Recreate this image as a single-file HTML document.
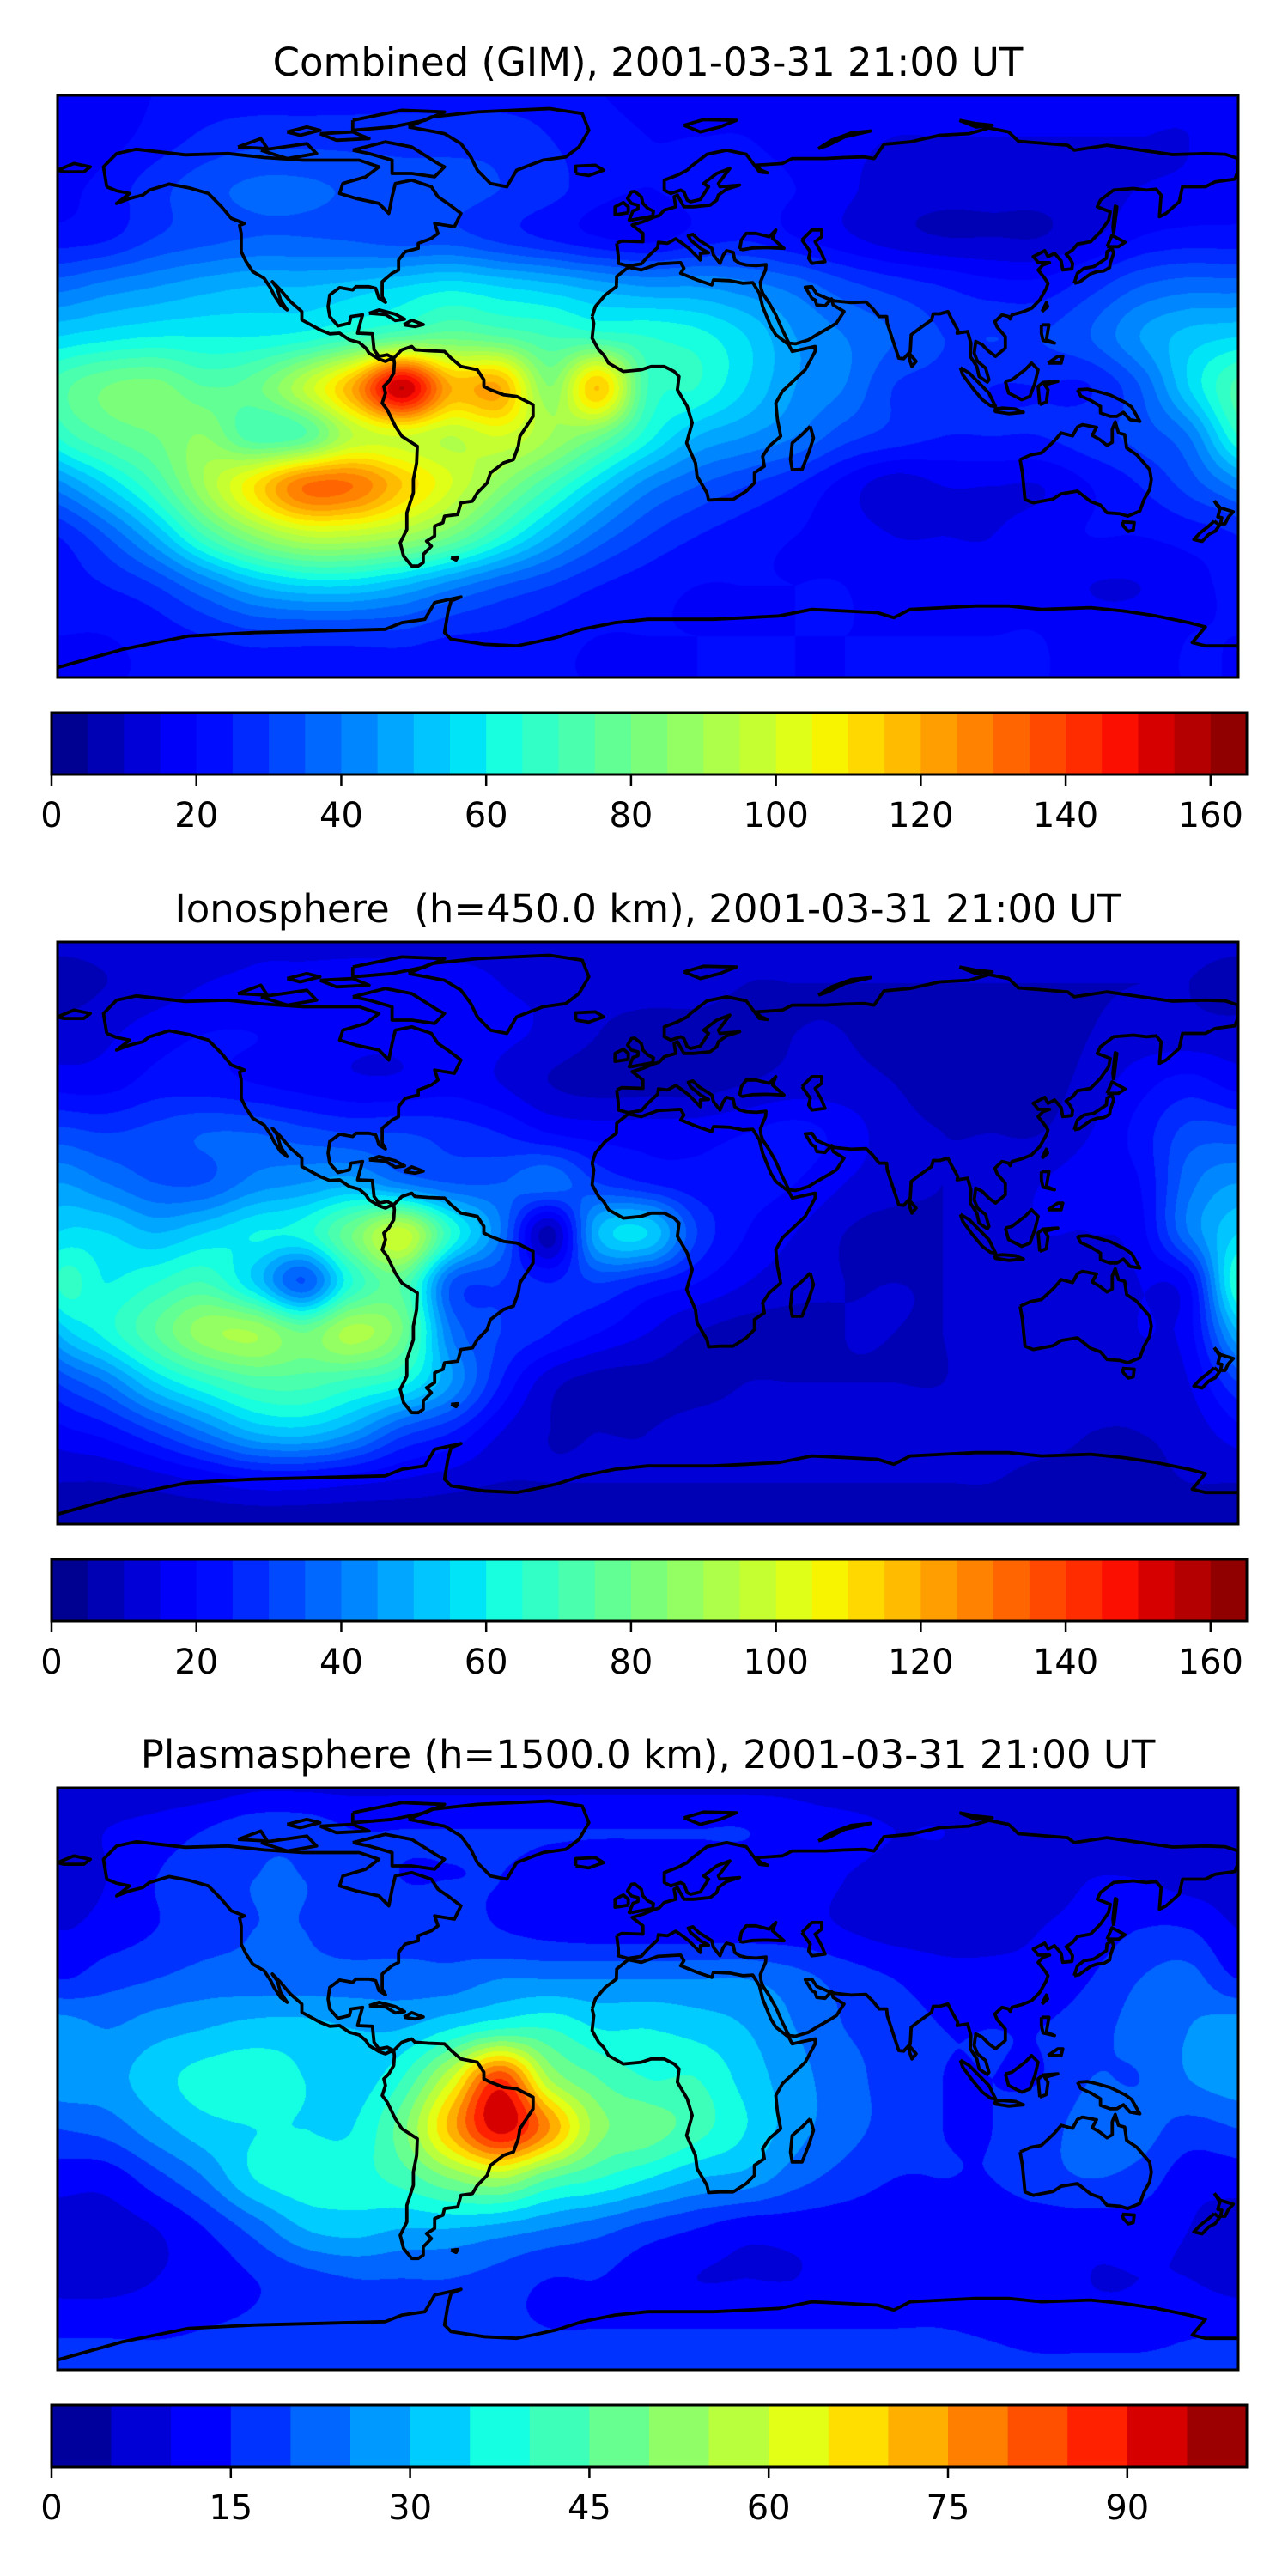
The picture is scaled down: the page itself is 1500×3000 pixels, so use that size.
<!DOCTYPE html>
<html><head><meta charset="utf-8">
<style>
html,body{margin:0;padding:0;background:#fff;}
#wrap{position:relative;width:1500px;height:3000px;overflow:hidden;font-family:"DejaVu Sans","Liberation Sans",sans-serif;}
canvas{position:absolute;}
svg{position:absolute;left:0;top:0;}
</style></head>
<body>
<div id="wrap">
<canvas id="c0" width="1375" height="678" style="left:67px;top:111px"></canvas>
<canvas id="c1" width="1375" height="678" style="left:67px;top:1097px"></canvas>
<canvas id="c2" width="1375" height="678" style="left:67px;top:2082px"></canvas>
<svg id="ov" width="1500" height="3000"></svg>
</div>
<script>
// ---- data ----
const gridLons=[-180,-165,-150,-135,-120,-105,-90,-75,-60,-45,-30,-15,0,15,30,45,60,75,90,105,120,135,150,165,180];
const gridLats=[90,75,60,45,30,15,0,-15,-30,-45,-60,-75,-90];
const gimValues=[
[18,18,20,22,22,22,22,22,22,22,22,20,18,18,18,16,16,16,16,16,16,16,16,16,18],
[16,18,22,26,28,28,28,28,28,28,25,22,20,20,20,18,16,15,15,15,15,15,15,15,16],
[18,22,28,33,36,36,34,32,32,30,27,22,20,22,22,20,16,13,12,12,12,13,15,16,18],
[22,24,30,33,35,35,34,32,32,28,24,20,18,22,24,20,16,12,10,10,10,14,20,22,22],
[38,42,45,48,50,50,52,55,58,55,52,48,45,45,42,38,32,28,25,22,22,28,35,38,38],
[55,58,60,60,60,62,68,75,78,75,70,68,65,62,55,45,40,35,30,30,30,35,45,52,55],
[72,80,82,75,78,95,120,155,120,120,85,115,70,65,55,45,40,30,28,25,25,25,35,55,72],
[65,75,80,85,72,75,95,100,95,100,90,80,62,50,45,40,32,28,25,25,25,28,32,40,65],
[42,55,70,90,110,130,130,115,100,85,70,55,42,35,30,25,18,12,15,15,15,20,25,32,42],
[25,35,50,70,85,95,95,90,80,65,50,38,30,25,22,20,18,15,15,15,18,20,20,22,25],
[22,25,30,40,50,55,55,50,42,35,30,25,22,20,20,20,20,18,18,18,18,15,15,18,22],
[20,20,22,25,28,28,28,28,25,24,22,20,20,20,20,20,20,20,20,20,20,18,18,20,20],
[20,20,20,20,20,20,20,20,20,20,20,20,20,20,20,20,20,20,20,20,20,20,20,20,20]];
const ionoValues=[
[12,12,12,12,14,14,14,14,14,14,12,12,12,12,12,12,12,12,12,12,12,12,12,12,12],
[8,10,12,15,16,16,16,16,16,15,14,12,12,12,10,10,10,10,10,10,10,10,10,10,8],
[12,14,18,20,20,18,16,16,18,16,14,10,8,8,8,10,10,8,8,8,8,10,12,12,12],
[18,18,22,22,20,18,16,16,18,15,10,8,8,8,10,12,12,10,8,8,8,12,18,22,18],
[32,30,32,35,35,32,30,30,28,25,20,18,18,18,20,22,18,12,10,10,10,15,22,32,32],
[45,40,35,35,42,45,48,40,35,35,38,30,25,22,22,20,15,12,10,12,15,18,20,38,45],
[55,55,50,55,60,62,80,98,65,40,8,50,55,30,20,15,10,8,10,12,15,15,18,40,55],
[65,60,65,70,55,35,65,75,35,30,25,30,25,20,15,12,10,10,10,12,12,12,15,20,65],
[50,62,75,88,90,80,92,80,40,30,25,20,15,10,8,8,10,10,10,12,12,12,15,18,50],
[30,40,55,65,72,72,68,62,45,25,12,8,8,8,10,10,10,10,10,12,12,12,12,15,30],
[18,22,30,40,50,52,45,32,25,15,10,10,10,12,12,12,12,12,12,12,12,10,10,12,18],
[10,10,12,15,18,18,16,14,12,10,10,10,10,10,10,10,10,10,10,10,8,8,8,10,10],
[5,5,5,5,5,5,5,5,5,5,5,5,5,5,5,5,5,5,5,5,5,5,5,5,5]];
const plasmaValues=[
[6,6,6,6,8,8,8,8,8,8,8,8,8,8,8,8,6,6,6,6,6,5,5,5,6],
[8,10,12,15,18,18,15,15,15,15,15,15,15,15,15,13,12,10,10,8,8,8,6,6,8],
[8,10,15,18,20,20,18,15,15,15,13,12,12,12,12,12,10,8,8,8,8,10,10,8,8],
[10,12,15,18,20,20,18,18,18,15,13,12,12,12,12,12,10,8,8,8,10,12,15,15,10],
[15,18,20,22,22,22,22,22,22,25,25,25,25,25,25,22,18,15,12,12,12,15,20,22,15],
[28,25,28,30,32,32,30,30,35,40,40,35,35,33,30,25,20,18,15,15,15,18,22,25,28],
[28,28,33,37,38,35,32,40,60,85,55,45,40,40,33,27,22,18,15,15,15,20,20,25,28],
[20,22,28,33,35,35,35,48,72,92,75,52,48,42,35,27,22,18,15,15,18,22,22,18,20],
[12,12,18,25,35,38,38,42,50,55,45,40,35,30,28,22,18,15,15,15,18,20,18,12,12],
[8,8,10,15,22,30,32,30,30,28,25,22,18,15,12,12,12,12,12,12,12,12,12,10,8],
[8,8,10,12,15,18,20,20,20,18,15,15,12,10,10,10,12,12,12,12,12,10,10,10,8],
[14,14,14,15,16,18,18,18,18,16,15,15,15,15,15,15,15,15,15,14,12,12,12,14,14],
[18,18,18,18,18,18,18,18,18,18,18,18,18,18,18,18,18,18,18,18,18,18,18,18,18]];
const levelsMax=[165,165,100];
const levelStep=5;
const tickLabels0=[0,20,40,60,80,100,120,140,160];
const tickLabels2=[0,15,30,45,60,75,90];
const titles=["Combined (GIM), 2001-03-31 21:00 UT","Ionosphere\u00a0 (h=450.0 km), 2001-03-31 21:00 UT","Plasmasphere (h=1500.0 km), 2001-03-31 21:00 UT"];

// ---- layout ----
const MX=67,MW=1375,MH=678,MY=[111,1097,2082];
const LATTOP=87.5,LATSPAN=175;
const CBX=60,CBW=1392,CBH=72,CBGAP=41;
function xOf(lon){return MX+(lon+180)/360*MW;}
function yOf(lat,p){return MY[p]+(LATTOP-lat)/LATSPAN*MH;}
function seg(pts,x){for(let i=1;i<pts.length;i++){if(x<=pts[i][0]){const a=pts[i-1],b=pts[i];return a[1]+(b[1]-a[1])*(x-a[0])/(b[0]-a[0]);}}return pts[pts.length-1][1];}
const JR=[[0,0],[0.35,0],[0.66,1],[0.89,1],[1,0.5]];
const JG=[[0,0],[0.125,0],[0.375,1],[0.64,1],[0.91,0],[1,0]];
const JB=[[0,0.5],[0.11,1],[0.34,1],[0.65,0],[1,0]];
function jet(x){return [seg(JR,x),seg(JG,x),seg(JB,x)].map(v=>Math.round(v*255));}
function cr(p0,p1,p2,p3,t){return p1+0.5*t*(p2-p0+t*(2*p0-5*p1+4*p2-p3+t*(3*(p1-p2)+p3-p0)));}
function sample(g,lon,lat){
  const fx=(lon+180)/15,fy=(90-lat)/15;
  const i=Math.floor(fx),j=Math.floor(fy),tx=fx-i,ty=fy-j;
  const col=k=>((k%24)+24)%24, row=k=>Math.max(0,Math.min(12,k));
  const r=[];
  for(let dj=-1;dj<=2;dj++){const R=g[row(j+dj)];r.push(cr(R[col(i-1)],R[col(i)],R[col(i+1)],R[col(i+2)],tx));}
  return cr(r[0],r[1],r[2],r[3],ty);
}
const grids=[gimValues,ionoValues,plasmaValues];
for(let p=0;p<3;p++){
  const cv=document.getElementById('c'+p),ctx=cv.getContext('2d');
  const img=ctx.createImageData(MW,MH),d=img.data;
  const N=levelsMax[p]/levelStep;
  const pal=[];for(let k=0;k<N;k++)pal.push(jet((k+0.5)/N));
  for(let y=0;y<MH;y++){
    const lat=LATTOP-(y+0.5)/MH*LATSPAN;
    for(let x=0;x<MW;x++){
      const lon=-180+(x+0.5)/MW*360;
      let v=sample(grids[p],lon,lat);
      let k=Math.floor(v/levelStep);k=Math.max(0,Math.min(N-1,k));
      const c=pal[k],o=(y*MW+x)*4;
      d[o]=c[0];d[o+1]=c[1];d[o+2]=c[2];d[o+3]=255;
    }
  }
  ctx.putImageData(img,0,0);
}

// ---- coastlines (lon,lat) ----
const coasts=[
[[-165,60],[-166,66],[-162,70],[-156,71.3],[-141,69.6],[-128,70],[-117,68.8],[-105,68],[-95,68],[-88,68],[-82,66],[-86,63],[-93,61],[-94,58],[-89,56.5],[-82,55],[-79,52],[-78,57],[-77,61],[-72,62],[-66,60],[-64,57],[-61,55],[-57,52],[-59,48],[-65,49],[-64,46],[-66,44.5],[-70,43],[-70,41.5],[-74,40.5],[-76,38],[-76,35],[-78,34],[-81,31.5],[-81,27],[-80,25.3],[-82,26.5],[-83,29.5],[-85,30],[-89,30],[-90,29],[-94,29.7],[-97,27.5],[-97.5,24],[-97,21],[-94.5,18.2],[-91,19],[-90.5,21],[-87,21.5],[-88,18],[-88.5,16],[-84,15.8],[-83.5,11],[-82,9],[-79.5,9.5],[-77.5,8.5],[-79,8],[-80,7.5],[-82,8.2],[-85,10],[-86,11.5],[-88,13.2],[-91,14],[-94,16],[-97,15.8],[-100,17],[-105.5,20],[-105.5,22.5],[-109,25.5],[-112,29],[-114.5,31.5],[-113,29.5],[-112,26],[-110,23],[-112,24.5],[-114,27.5],[-115,29.5],[-117,32.5],[-120.5,34.5],[-122.5,37.5],[-124,40.5],[-124,46],[-124.5,48.4],[-123,49],[-127,50.5],[-130,54],[-134,58],[-140,59.7],[-146,60.8],[-152,59],[-154,57.5],[-158,56.5],[-162,55],[-158,58],[-162,58.8],[-165,60]],
[[-73,78],[-66,81],[-52,82.5],[-30,83.5],[-20,82],[-18,77],[-21,72],[-25,69],[-32,68],[-40,65],[-43,60],[-48,61],[-52,65],[-54,69],[-57,73],[-62,76],[-73,78]],
[[-90,71],[-80,73.5],[-72,72],[-64,67],[-62,66],[-65,63],[-72,64],[-78,64],[-78,68],[-85,70],[-90,71]],
[[-90,80],[-75,83],[-62,82.5],[-68,80],[-78,78],[-90,77],[-90,80]],
[[-118,71],[-104,73],[-101,70],[-110,68.5],[-118,71]],
[[-125,72],[-118,74.5],[-116,71.5],[-125,72]],
[[-100,76],[-90,76.5],[-85,74.5],[-95,74],[-100,76]],
[[-110,76.5],[-104,78],[-100,77],[-106,75.5],[-110,76.5]],
[[-77.5,8.5],[-75,11],[-72,12],[-71,11],[-67,10.7],[-62,10.5],[-60,8.5],[-57,6],[-52,5],[-50,2],[-50,0],[-48,-1],[-44,-2.5],[-40,-3],[-35,-5.5],[-35,-9],[-37,-12],[-39,-15],[-39.5,-18],[-41,-22],[-44,-23],[-48,-26],[-49,-29],[-52,-32],[-53.5,-34.5],[-57,-35],[-58,-38.5],[-62,-39],[-62.5,-41],[-65,-42],[-65,-45],[-67.5,-46.5],[-66,-48],[-68.5,-50.5],[-68.5,-53],[-70,-54],[-72,-54],[-74.5,-51],[-75.5,-47],[-73.5,-43],[-73.5,-38],[-71.5,-32],[-71.5,-28],[-70.5,-23],[-70.3,-18],[-75,-15],[-77,-12],[-79.5,-7],[-81,-5],[-80,-2],[-80.5,0],[-79,1.5],[-77.5,4],[-77.3,7],[-77.5,8.5]],
[[-85,22],[-82,23],[-77,21.7],[-74.2,20.2],[-77,19.8],[-80,21.6],[-85,22]],
[[-74.4,18.5],[-72,19.9],[-68.5,18.6],[-71,18],[-74.4,18.5]],
[[-17,21],[-16,24],[-13,27.5],[-9.6,30],[-9.5,33],[-6,35.8],[-2,35],[3,36.8],[10,37.2],[11,35.5],[10,34],[15,32],[19.5,30.5],[20,32],[25,31.8],[29,31],[32,31.2],[34,28],[35,24],[37.5,18],[39,15.5],[43,12.5],[44,10.5],[51,12],[51,10.5],[48,5],[41,-1.5],[39,-5],[39.5,-10],[40.5,-15],[37,-18],[35,-21],[35.5,-24],[32.5,-26],[32.5,-29],[30,-31.5],[26,-34],[22,-34],[18.5,-34.2],[18,-32],[15,-27],[14.5,-23],[11.8,-17],[13.5,-11],[12,-6],[9,-1],[9.5,3],[8,4.5],[5,6],[1,6],[-2,5],[-7.5,4.5],[-12,7],[-13.5,9.5],[-15,11],[-17,14.5],[-16.5,19],[-17,21]],
[[49.5,-12],[50.5,-15.5],[49,-20],[47,-25],[44,-25],[43.5,-22],[44,-17],[47,-14.5],[49.5,-12]],
[[-9.5,43],[-9,39],[-9,37],[-6,36.2],[-2,36.8],[0,39],[3,41.8],[3.2,43.3],[6,43],[8.5,44.4],[10.5,43],[12.5,41.5],[16,38],[16,40],[18.5,40.2],[16,41.5],[13,44],[12.3,45.3],[13.7,45.7],[15.5,44],[19.5,41.5],[20,39.5],[22,37],[23,39.5],[24,40.8],[26,40.3],[26.5,38],[28,37],[30,36.5],[33,36.3],[36,36.6],[35.9,35],[35,33],[34.3,31.3],[34.5,29.5],[35,28],[37,25],[39,21.5],[41,17],[43,13],[45,12.8],[49,14],[52,15.8],[55,17.5],[57.5,19],[59.8,22.5],[56.5,24.5],[56,26.3],[54,24.2],[51.5,24.5],[51,26],[50,26.5],[48,29.8],[50,30],[51.5,27.8],[54.5,26.5],[57,25.7],[62,25.2],[66.5,25.4],[68.5,23.5],[70.5,21],[72.8,21],[73,19],[74.5,14.5],[76.5,8.5],[78,8.3],[80,10.5],[80.3,15.5],[82.3,17],[86.5,20],[87,21.8],[89,21.8],[91.5,22.5],[92.5,20.5],[94.5,17],[94.3,16],[97.5,16.5],[98.5,13],[98.3,9],[100.3,6],[101,3],[103.5,1.3],[104,2],[103,5.5],[100.5,7.5],[99.5,10],[100,13.5],[102,12.5],[104,10.5],[106,9],[109,11.5],[109,15],[106.5,17.8],[105.8,19.5],[108,21.5],[110,21],[110.5,20.3],[111,21.5],[114,22.3],[117,23.5],[119.5,26],[121.5,29.5],[122,31],[121,32.5],[119,35],[120.5,36.5],[122.5,37.2],[119,37.2],[118,38.5],[117.5,39],[121,40.8],[122,39],[124,40],[126,37.7],[126.5,35],[129.3,35.3],[129.5,37],[128.5,38.7],[127.5,39.7],[129.5,41],[131,42.8],[135,43.5],[138,46.5],[140.5,50],[141,52.5],[137,54],[138,56],[142,59],[148,59.5],[152,59],[155,59.3],[156.5,57.5],[156,51],[158,52],[162,55.5],[163,60],[170,60],[173,61.5],[179,62.3],[180,65],[180,68.5],[176,69.8],[170,70],[160,69.7],[152,70.8],[140,72.5],[130,71],[128,72.5],[113,73.7],[110,76.5],[104,77.7],[98,76],[89,75.5],[80,73.5],[72,72.8],[69,68.5],[66,69],[60,68.8],[54,68.5],[44,68.5],[41,67],[33,66.5],[34.5,65],[36.5,64.2],[34,64.5],[30,69.8],[24,71],[18,69.8],[13,66],[12,65],[9,63.5],[5,62],[5,59],[7,58],[10,59],[11,58.5],[12,56],[13,55.5],[16,56.2],[18.5,60],[17,61],[21,64],[25,65.5],[21.5,61],[22,60],[28,60.5],[24,59.3],[21.5,57.5],[21,56],[19,54.5],[14,54],[11,54],[9,57.5],[8,57],[8.5,54],[5,53],[3.5,51.4],[1.6,50.8],[-1.5,49.5],[-4.8,48.5],[-1.5,46],[-1.5,43.5],[-8,43.7],[-9.5,43]],
[[-180,65],[-175,67],[-170,66],[-172,64.5],[-178,64.5],[-180,65]],
[[28,41.3],[28.5,44],[30,46],[33,46],[37,45],[39,47],[38,44.5],[41.5,41.5],[36,41.7],[32,41.6],[29,41.1],[28,41.3]],
[[47,44],[50,47],[53,47],[53,45],[51,43.5],[53,40],[54,37.5],[50,37],[49,38.5],[49.5,40.5],[47,44]],
[[-5,50],[1.5,51.2],[1.7,52.7],[0,53.5],[-1.5,55],[-2,57],[-4,58.6],[-5,58.5],[-6.2,56.5],[-5,55],[-3,54.5],[-3,53.3],[-4.5,52.8],[-5,51.7],[-5.7,50],[-5,50]],
[[-6,52.2],[-6,54],[-7.5,55.3],[-10,54],[-10,51.6],[-6,52.2]],
[[-22,64],[-22,66.2],[-16,66.5],[-13.5,65],[-18,63.4],[-22,64]],
[[11,78.5],[17,80.2],[27,80],[22,78],[16,76.5],[11,78.5]],
[[52,71.5],[56,74],[62,76.2],[68,76.8],[60,75],[55,72.5],[52,71.5]],
[[95,80],[100,79],[105,78.5],[100,78],[95,80]],
[[130,31],[131,34],[133,35.5],[136,36],[139.8,38.5],[140,40.5],[141.5,41.5],[142,40],[141,37],[140.8,35.7],[139,34.7],[137,34.5],[135,33.8],[131.5,31.3],[130,31]],
[[140,42],[141.5,45.4],[145.5,43.3],[143.5,42],[140,42]],
[[142,46],[143,54],[142.5,54.2],[141.8,48],[142,46]],
[[79.8,9.8],[81.8,7.5],[80.5,6],[79.8,8],[79.8,9.8]],
[[120.2,22.5],[121.5,25.2],[121.9,24],[120.2,22.5]],
[[109,1.5],[110,-2],[114,-4],[116.5,-3],[118,1],[119,5],[117,7],[115,5],[111,2],[109,1.5]],
[[95.3,5.6],[98,4],[104,-2],[106,-6],[104.5,-5.8],[102,-4],[99,-0.5],[96,3.5],[95.3,5.6]],
[[105.5,-6.8],[108,-6.5],[112,-6.8],[114.5,-7.8],[110,-8.2],[106,-7.6],[105.5,-6.8]],
[[119.5,-5.5],[119,0],[120.5,1.2],[125,1.5],[121,0.5],[122,-1],[121.5,-4.7],[119.5,-5.5]],
[[131,-1],[134,-0.8],[137,-1.5],[141,-2.6],[145.5,-4.8],[147.5,-6.2],[150,-10.5],[147,-10],[145,-7.8],[143,-9],[141,-9],[138,-8],[138,-6],[135,-4.2],[132,-2.9],[131,-1]],
[[120,18.5],[122.3,18.5],[121.5,14],[124,13],[120.5,13.8],[120,16],[120,18.5]],
[[122,7],[126,7],[126.5,9],[125,9],[123.5,8],[122,7]],
[[113.5,-22],[114.2,-26],[115,-34],[117.5,-35],[123.5,-33.9],[126,-32.3],[131,-31.5],[135,-34.6],[138,-35.7],[140,-38],[144,-38.3],[146.3,-39],[150,-37.5],[151.3,-34],[153,-31],[153.5,-28],[153,-25],[150.8,-22.5],[149,-20.5],[146,-18.5],[145.4,-14.5],[143.5,-14],[142.5,-10.7],[141.6,-12.9],[141.6,-16.8],[140,-17.7],[137.8,-16],[135.5,-14.7],[136.8,-12.3],[132.5,-11.5],[131,-12.2],[129.5,-14.9],[126,-14],[124,-16.3],[122.2,-18],[120,-20],[116.7,-20.6],[113.5,-22]],
[[144.6,-40.7],[148.3,-40.9],[148,-43.2],[146.5,-43.6],[145,-42],[144.6,-40.7]],
[[172.7,-34.4],[174.5,-36.5],[178.5,-37.7],[177,-39.3],[176,-41.3],[174.6,-41.3],[175,-39.5],[173.8,-39.2],[174.4,-37],[172.7,-34.4]],
[[172.7,-40.5],[174.3,-41.7],[173,-43.5],[171,-44.5],[169,-46.6],[166.5,-46],[168.4,-44],[171,-42],[172.7,-40.5]],
[[-180,-84.5],[-160,-79],[-150,-77],[-140,-75],[-120,-74],[-100,-73.5],[-80,-73],[-75,-71],[-68,-70],[-65,-65],[-57,-63.3],[-60,-64.5],[-61,-68],[-62,-74],[-60,-76],[-50,-77.5],[-40,-78],[-35,-77],[-28,-75.5],[-20,-73],[-10,-71],[0,-70],[10,-70],[20,-70],[30,-69.5],[40,-69],[50,-67],[60,-67.5],[70,-68],[75,-69.5],[80,-67],[90,-66.5],[100,-66],[110,-66],[120,-67],[135,-66.5],[145,-67.5],[155,-69],[165,-71],[170,-72.3],[166,-77],[170,-78],[180,-78]],
[[-60,-51.5],[-58,-51.3],[-58.5,-52.2],[-60,-51.5]]
];

// ---- SVG overlay ----
const NS='http://www.w3.org/2000/svg';
const ov=document.getElementById('ov');
function mk(tag,attrs,parent){const e=document.createElementNS(NS,tag);for(const k in attrs)e.setAttribute(k,attrs[k]);(parent||ov).appendChild(e);return e;}
const defs=mk('defs',{});
const names=['gim','ionosphere','plasmasphere'];
for(let p=0;p<3;p++){
  const g=mk('g',{});
  
  
  const cp=mk('clipPath',{id:'clip'+p},defs);
  mk('rect',{x:MX,y:MY[p],width:MW,height:MH},cp);
  const t=mk('text',{x:MX+MW/2,y:MY[p]-23,'text-anchor':'middle','font-size':45,fill:'#000','font-family':'DejaVu Sans, Liberation Sans, sans-serif'},g);
  t.textContent=titles[p];
  
  
  const cg=mk('g',{'clip-path':'url(#clip'+p+')'},g);
  
  
  for(const poly of coasts){
    const pts=poly.map(q=>xOf(q[0]).toFixed(1)+','+yOf(q[1],p).toFixed(1)).join(' ');
    const pl=mk('polyline',{points:pts,fill:'none',stroke:'#000','stroke-width':3.8,'stroke-linejoin':'round'},cg);
    
    
  }
  const fr=mk('rect',{x:MX,y:MY[p],width:MW,height:MH,fill:'none',stroke:'#000','stroke-width':3},g);
  
  
  const cb=mk('g',{},g);
  
  
  const vmax=levelsMax[p],N=vmax/levelStep,cy=MY[p]+MH+CBGAP;
  const cx=v=>CBX+v/vmax*CBW;
  for(let k=0;k<N;k++){
    const c=jet((k+0.5)/N);
    const r=mk('rect',{x:cx(k*levelStep),y:cy,width:cx((k+1)*levelStep)-cx(k*levelStep)+0.6,height:CBH,fill:'rgb('+c.join(',')+')'},cb);
    
    
  }
  mk('rect',{x:CBX,y:cy,width:CBW,height:CBH,fill:'none',stroke:'#000','stroke-width':3},cb);
  const ticks=p==2?tickLabels2:tickLabels0;
  for(const v of ticks){
    const tl=mk('line',{x1:cx(v),x2:cx(v),y1:cy+CBH,y2:cy+CBH+13,stroke:'#000','stroke-width':2.5},cb);
    
    
    const tx=mk('text',{x:cx(v),y:cy+CBH+61,'text-anchor':'middle','font-size':40,fill:'#000','font-family':'DejaVu Sans, Liberation Sans, sans-serif'},cb);
    tx.textContent=String(v);
    
    
  }
}
</script>
</body></html>
